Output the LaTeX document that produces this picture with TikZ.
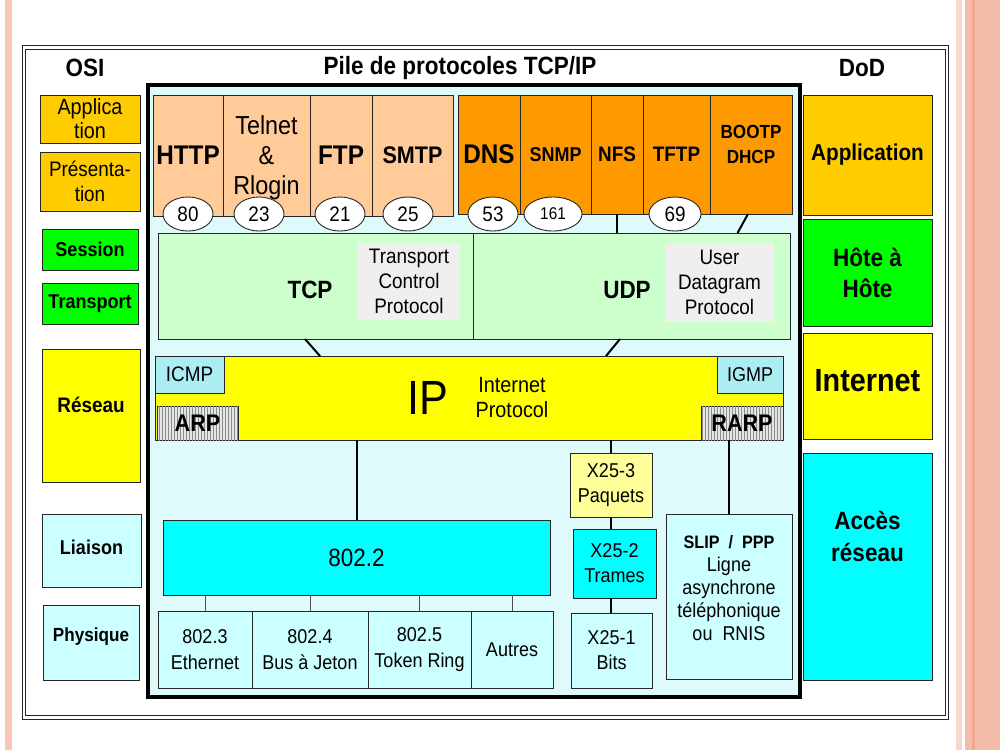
\documentclass[tikz,border=0pt]{standalone}
\usepackage{fontspec}
\setmainfont{Liberation Sans}[FakeStretch=0.9]
\usetikzlibrary{shapes.geometric,patterns}
\definecolor{gold}{HTML}{FFCC00}
\definecolor{brightgreen}{HTML}{00FF00}
\definecolor{ipyellow}{HTML}{FFFF00}
\definecolor{lightcyan}{HTML}{CCFFFF}
\definecolor{peach}{HTML}{FFCC99}
\definecolor{orangebox}{HTML}{FF9900}
\definecolor{lightgreen}{HTML}{CCFFCC}
\definecolor{paleGray}{HTML}{EFEFEF}
\definecolor{cyanbox}{HTML}{00FFFF}
\definecolor{paleyellow}{HTML}{FFFF99}
\definecolor{bgcyan}{rgb}{0.87,0.98,0.98}
\definecolor{icmpcyan}{rgb}{0.67,0.93,0.95}
\definecolor{pinkline}{HTML}{F9C5B5}
\definecolor{pinklight}{HTML}{FAD6CB}
\definecolor{pinkband}{HTML}{F3BDAA}
\definecolor{pinkdark}{HTML}{EFA88E}
\newcommand{\fs}[2]{\fontsize{#1}{#2}\selectfont}
\begin{document}
\begin{tikzpicture}[x=1pt,y=-1pt,
  box/.style={draw=black!85, line width=0.9pt, inner sep=0pt, outer sep=0pt, align=center, text=black},
  port/.style={ellipse, draw=black!85, line width=0.9pt, fill=white, minimum width=50, minimum height=34, inner sep=0pt, outer sep=0pt, font=\fs{21}{21}},
  conn/.style={draw=black, line width=2pt},
  tick/.style={draw=black!70, line width=0.8pt},
  title/.style={font=\fs{25}{25}\bfseries},
  hatched/.style={box, fill=gray!20, postaction={pattern=vertical lines, pattern color=gray!90}},
  lbl/.style={inner sep=0pt, align=center}]
\useasboundingbox (0,0) rectangle (1000,750);
\fill[white] (0,0) rectangle (1000,750);
% side decoration
\fill[pinkline] (5,0) rectangle (12,750);
\fill[pinklight] (956,0) rectangle (962,750);
\fill[pinkband] (965,0) rectangle (1000,750);
\fill[pinkdark] (972,0) rectangle (975,750);
% outer frame
\node[draw=black!85, double, double distance=2.6pt, line width=1.1pt, minimum width=923, minimum height=670, inner sep=0pt] (frame) at (485.5,382.5) {};
% titles
\node[title] (tosi) at (85,68) {OSI};
\node[title] (tpile) at (460,68) {Pile de protocoles TCP/IP};
\node[title] (tdod) at (862,68) {DoD};
% main stack box
\node[draw=black, line width=3.5pt, fill=bgcyan, minimum width=652, minimum height=612, inner sep=0pt] (pile) at (474,391) {};
% OSI column
\node[box, fill=gold, minimum width=100, minimum height=48, font=\fs{22}{24}] (osiapp) at (90,119) {Applica\\tion};
\node[box, fill=gold, minimum width=100, minimum height=59, font=\fs{21}{25}] (osipres) at (90,181.5) {Présenta-\\tion};
\node[box, fill=brightgreen, minimum width=96, minimum height=41, font=\fs{20}{20}\bfseries] (osises) at (90,249.5) {Session};
\node[box, fill=brightgreen, minimum width=96, minimum height=41, font=\fs{20}{20}\bfseries] (osetr) at (90,303.5) {Transport};
\node[box, fill=ipyellow, minimum width=98, minimum height=133] (osires) at (91,415.5) {};
\node[lbl, font=\fs{21}{21}\bfseries] (osirest) at (91,405) {Réseau};
\node[box, fill=lightcyan, minimum width=99, minimum height=73] (osilia) at (91.5,550.5) {};
\node[lbl, font=\fs{20}{20}\bfseries] (osiliat) at (91.5,547) {Liaison};
\node[box, fill=lightcyan, minimum width=96, minimum height=75] (osiphy) at (91,642.5) {};
\node[lbl, font=\fs{19}{19}\bfseries] (osiphyt) at (91,637) {Physique};
% DoD column
\node[box, fill=gold, minimum width=129, minimum height=120, font=\fs{23}{23}\bfseries] (dodapp) at (867.5,155) {Application};
\node[box, fill=brightgreen, minimum width=129, minimum height=107, font=\fs{25}{31}\bfseries] (dodhote) at (867.5,272.5) {Hôte à\\Hôte};
\node[box, fill=ipyellow, minimum width=129, minimum height=106] (dodint) at (867.5,386) {};
\node[lbl, font=\fs{32}{32}\bfseries] (dodintt) at (867.5,381) {Internet};
\node[box, fill=cyanbox, minimum width=129, minimum height=227] (dodacc) at (867.5,566.5) {};
\node[lbl, font=\fs{25}{32}\bfseries] (dodacct) at (867.5,536) {Accès\\réseau};
% application protocols
\node[box, fill=peach, minimum width=70, minimum height=121, font=\fs{27}{27}\bfseries] (http) at (188,155.5) {HTTP};
\node[box, fill=peach, minimum width=87, minimum height=121] (telnet) at (266.5,155.5) {};
\node[lbl, font=\fs{26}{30}] (telnett) at (266.5,158) {Telnet\\\&\\Rlogin};
\node[box, fill=peach, minimum width=62, minimum height=121, font=\fs{27}{27}\bfseries] (ftp) at (341,155.5) {FTP};
\node[box, fill=peach, minimum width=81, minimum height=121, font=\fs{24}{24}\bfseries] (smtp) at (412.5,155.5) {SMTP};
\node[box, fill=orangebox, minimum width=62, minimum height=119, font=\fs{27}{27}\bfseries] (dns) at (489,154.5) {DNS};
\node[box, fill=orangebox, minimum width=71, minimum height=119, font=\fs{20}{20}\bfseries] (snmp) at (555.5,154.5) {SNMP};
\node[box, fill=orangebox, minimum width=52, minimum height=119, font=\fs{21}{21}\bfseries] (nfs) at (617,154.5) {NFS};
\node[box, fill=orangebox, minimum width=67, minimum height=119, font=\fs{21}{21}\bfseries] (tftp) at (676.5,154.5) {TFTP};
\node[box, fill=orangebox, minimum width=82, minimum height=119] (bootp) at (751,154.5) {};
\node[lbl, font=\fs{19}{25}\bfseries] (bootpt) at (751,144.5) {BOOTP\\DHCP};
% TCP / UDP
\node[box, fill=lightgreen, minimum width=315, minimum height=106] (tcp) at (315.5,286) {};
\node[box, fill=lightgreen, minimum width=317, minimum height=106] (udp) at (631.5,286) {};
\node[lbl, font=\fs{25}{25}\bfseries] (tcpt) at (310,290) {TCP};
\node[lbl, font=\fs{25}{25}\bfseries] (udpt) at (627,290) {UDP};
\node[inner sep=0pt, fill=paleGray, minimum width=102, minimum height=77, align=center, font=\fs{21}{25}] (tcpdesc) at (409,281.5) {Transport\\Control\\Protocol};
\node[inner sep=0pt, fill=paleGray, minimum width=109, minimum height=79, align=center, font=\fs{21}{25}] (udpdesc) at (719.5,282.5) {User\\Datagram\\Protocol};
% connectors app -> transport
\draw[conn] (nfs.south) -- (nfs.south |- udp.north);
\draw[conn] ([xshift=-3pt]bootp.south) -- ([xshift=106pt]udp.north);
% ports
\node[port] (p80) at (188,214) {80};
\node[port] (p23) at (259,214) {23};
\node[port] (p21) at (340,214) {21};
\node[port] (p25) at (408,214) {25};
\node[port] (p53) at (493,214) {53};
\node[port, minimum width=58, font=\fs{17}{17}] (p161) at (553,214) {161};
\node[port, minimum width=52] (p69) at (675,214) {69};
% IP layer
\node[box, fill=ipyellow, minimum width=628, minimum height=84] (ip) at (469,398) {};
\draw[conn] ([xshift=-10.5pt]tcp.south) -- ([xshift=-149pt]ip.north);
\draw[conn] ([xshift=-11.5pt]udp.south) -- ([xshift=137pt]ip.north);
\node[lbl, font=\fs{48}{48}] (ipt) at (428,398) {IP};
\node[lbl, font=\fs{22}{25}] (ipdesc) at (512,398) {Internet\\Protocol};
\node[box, fill=icmpcyan, minimum width=69, minimum height=37, font=\fs{21}{21}] (icmp) at (189.5,374.5) {ICMP};
\node[box, fill=icmpcyan, minimum width=66, minimum height=37, font=\fs{20}{20}] (igmp) at (750,374.5) {IGMP};
\node[hatched, minimum width=81, minimum height=34, font=\fs{24}{24}\bfseries] (arp) at (197.5,423) {ARP};
\node[hatched, minimum width=82, minimum height=34, font=\fs{24}{24}\bfseries] (rarp) at (742,423) {RARP};
% network access
\node[box, fill=cyanbox, minimum width=387, minimum height=75, font=\fs{25}{25}] (l8022) at (356.5,557.5) {802.2};
\draw[conn] (ip.south -| l8022.north) -- (l8022.north);
\node[box, fill=lightcyan, minimum width=94, minimum height=77, font=\fs{20}{26}] (l8023) at (205,649.5) {802.3\\Ethernet};
\node[box, fill=lightcyan, minimum width=116, minimum height=77, font=\fs{20}{26}] (l8024) at (310,649.5) {802.4\\Bus à Jeton};
\node[box, fill=lightcyan, minimum width=103, minimum height=77, font=\fs{20}{26}] (l8025) at (419.5,649.5) {802.5\\Token Ring};
\node[box, fill=lightcyan, minimum width=82, minimum height=77, font=\fs{20}{20}] (lautres) at (512,649.5) {Autres};
\draw[tick] (l8023.north |- l8022.south) -- (l8023.north);
\draw[tick] (l8024.north |- l8022.south) -- (l8024.north);
\draw[tick] (l8025.north |- l8022.south) -- (l8025.north);
\draw[tick] (lautres.north |- l8022.south) -- (lautres.north);
% X25
\node[box, fill=paleyellow, minimum width=82, minimum height=64, font=\fs{20}{25}] (x253) at (611,485) {X25-3\\Paquets};
\node[box, fill=cyanbox, minimum width=83, minimum height=69, font=\fs{20}{25}] (x252) at (614.5,563.5) {X25-2\\Trames};
\node[box, fill=lightcyan, minimum width=81, minimum height=75, font=\fs{20}{25}] (x251) at (611.5,650.5) {X25-1\\Bits};
\draw[conn] (ip.south -| x253.north) -- (x253.north);
\draw[conn] (x253.south) -- (x253.south |- x252.north);
\draw[conn] (x253.south |- x252.south) -- (x253.south |- x251.north);
% SLIP / PPP
\node[box, fill=lightcyan, minimum width=126, minimum height=165] (slip) at (729,596.5) {};
\node[lbl, font=\fs{20}{23}] (slipt) at (729,588.5) {\textbf{\fs{18}{23}SLIP\ \ /\ \ PPP}\\Ligne\\asynchrone\\téléphonique\\ou\ \ RNIS};
\draw[conn] (ip.south -| slip.north) -- (slip.north);
\end{tikzpicture}
\end{document}
